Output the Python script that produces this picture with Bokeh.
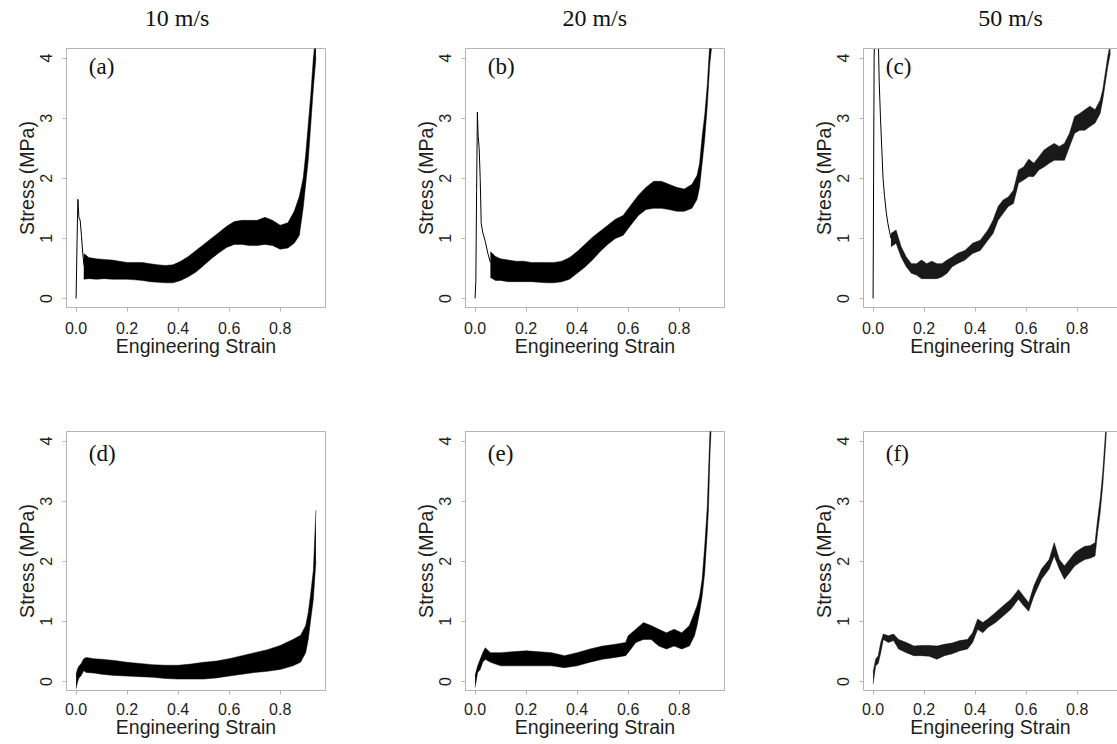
from bokeh.plotting import figure
from bokeh.models import FixedTicker, PrintfTickFormatter, Label, LinearAxis, Range1d
from bokeh.layouts import column, row
from bokeh.embed import file_html
from bokeh.resources import INLINE

# ---------------- data ----------------
x_ticks = [0.0, 0.2, 0.4, 0.6, 0.8]
y_ticks = [0, 1, 2, 3, 4]
col_titles = ["10 m/s", "20 m/s", "50 m/s"]
panel_tags = ["(a)", "(b)", "(c)", "(d)", "(e)", "(f)"]

# (a) 10 m/s, top row
a_spike_x = [0.0, 0.004, 0.007, 0.011, 0.016, 0.021, 0.026, 0.031]
a_spike_y = [0.0, 1.0, 1.65, 1.35, 1.3, 1.05, 0.75, 0.55]
a_x = [0.03, 0.05, 0.08, 0.11, 0.14, 0.17, 0.20, 0.23, 0.26, 0.29, 0.32, 0.35, 0.38, 0.41,
       0.44, 0.47, 0.50, 0.53, 0.56, 0.59, 0.62, 0.65, 0.68, 0.71, 0.74, 0.77, 0.80, 0.83,
       0.855, 0.875, 0.89, 0.90, 0.91, 0.92, 0.93, 0.94]
a_lo = [0.32, 0.33, 0.32, 0.33, 0.32, 0.32, 0.32, 0.31, 0.30, 0.28, 0.27, 0.26, 0.26, 0.30,
        0.36, 0.44, 0.55, 0.66, 0.76, 0.85, 0.90, 0.90, 0.88, 0.88, 0.90, 0.88, 0.82, 0.84,
        0.92, 1.05, 1.50, 1.90, 2.30, 2.90, 3.50, 4.00]
a_hi = [0.75, 0.68, 0.66, 0.65, 0.64, 0.62, 0.60, 0.60, 0.60, 0.58, 0.56, 0.55, 0.56, 0.62,
        0.70, 0.80, 0.90, 1.00, 1.10, 1.20, 1.28, 1.30, 1.30, 1.30, 1.35, 1.30, 1.22, 1.26,
        1.45, 1.70, 2.00, 2.40, 2.90, 3.40, 4.00, 4.40]

# (b) 20 m/s, top row
b_spike_x = [0.0, 0.003, 0.006, 0.009, 0.012, 0.016, 0.020, 0.024, 0.030, 0.040, 0.050, 0.060]
b_spike_y = [0.0, 0.3, 1.8, 3.1, 2.7, 2.5, 2.0, 1.25, 1.1, 0.95, 0.75, 0.6]
b_x = [0.06, 0.08, 0.10, 0.13, 0.16, 0.19, 0.22, 0.25, 0.28, 0.31, 0.34, 0.37, 0.40, 0.43,
       0.46, 0.49, 0.52, 0.55, 0.58, 0.61, 0.64, 0.67, 0.70, 0.73, 0.76, 0.79, 0.82, 0.85,
       0.87, 0.88, 0.89, 0.90, 0.91, 0.92, 0.93]
b_lo = [0.35, 0.30, 0.30, 0.28, 0.28, 0.28, 0.28, 0.27, 0.26, 0.26, 0.28, 0.32, 0.42, 0.52,
        0.64, 0.78, 0.90, 1.00, 1.05, 1.22, 1.38, 1.48, 1.50, 1.50, 1.48, 1.45, 1.45, 1.50,
        1.65, 1.85, 2.25, 2.65, 3.20, 3.90, 4.30]
b_hi = [0.78, 0.70, 0.66, 0.64, 0.62, 0.62, 0.60, 0.60, 0.60, 0.60, 0.62, 0.68, 0.78, 0.90,
        1.02, 1.12, 1.22, 1.32, 1.38, 1.55, 1.72, 1.85, 1.95, 1.95, 1.90, 1.85, 1.82, 1.90,
        2.05, 2.25, 2.70, 3.05, 3.55, 4.25, 4.50]

# (c) 50 m/s, top row
c_spike_x = [0.0, 0.002, 0.004, 0.007, 0.019, 0.024, 0.029, 0.034, 0.039, 0.045, 0.052,
             0.058, 0.064, 0.070]
c_spike_y = [0.0, 2.0, 4.0, 4.6, 4.6, 3.6, 3.0, 2.5, 2.0, 1.7, 1.42, 1.25, 1.12, 1.0]
c_x = [0.07, 0.09, 0.11, 0.13, 0.15, 0.17, 0.19, 0.21, 0.23, 0.25, 0.27, 0.29, 0.31, 0.33,
       0.36, 0.39, 0.42, 0.45, 0.47, 0.49, 0.51, 0.53, 0.55, 0.57, 0.59, 0.61, 0.63, 0.65,
       0.67, 0.69, 0.71, 0.73, 0.75, 0.77, 0.79, 0.81, 0.83, 0.85, 0.87, 0.89, 0.90, 0.91,
       0.92, 0.93]
c_lo = [0.86, 0.92, 0.69, 0.53, 0.42, 0.39, 0.33, 0.33, 0.33, 0.33, 0.36, 0.42, 0.53, 0.58,
        0.64, 0.75, 0.80, 0.97, 1.08, 1.30, 1.42, 1.53, 1.58, 1.92, 1.97, 2.03, 2.03, 2.14,
        2.19, 2.25, 2.30, 2.30, 2.30, 2.53, 2.75, 2.80, 2.80, 2.86, 2.92, 3.08, 3.30, 3.58,
        3.86, 4.08]
c_hi = [1.08, 1.14, 0.86, 0.69, 0.58, 0.58, 0.64, 0.58, 0.62, 0.58, 0.58, 0.64, 0.69, 0.75,
        0.80, 0.92, 0.97, 1.14, 1.30, 1.53, 1.64, 1.69, 1.80, 2.14, 2.19, 2.32, 2.25, 2.36,
        2.47, 2.53, 2.58, 2.53, 2.58, 2.75, 3.03, 3.08, 3.14, 3.20, 3.14, 3.30, 3.47, 3.75,
        4.03, 4.25]

# (d) 10 m/s, bottom row
d_x = [0.0, 0.005, 0.01, 0.02, 0.03, 0.04, 0.07, 0.10, 0.15, 0.20, 0.25, 0.30, 0.35, 0.40,
       0.45, 0.50, 0.55, 0.60, 0.65, 0.70, 0.75, 0.80, 0.85, 0.88, 0.90, 0.91, 0.92, 0.93, 0.94]
d_lo = [-0.12, -0.02, 0.05, 0.10, 0.18, 0.15, 0.14, 0.12, 0.10, 0.09, 0.08, 0.07, 0.05, 0.04,
        0.04, 0.04, 0.06, 0.09, 0.12, 0.15, 0.17, 0.20, 0.26, 0.32, 0.48, 0.70, 1.04, 1.37, 2.00]
d_hi = [0.12, 0.20, 0.25, 0.30, 0.38, 0.40, 0.38, 0.37, 0.35, 0.32, 0.30, 0.28, 0.27, 0.27,
        0.29, 0.32, 0.34, 0.38, 0.43, 0.48, 0.53, 0.60, 0.70, 0.77, 0.93, 1.15, 1.48, 1.85, 2.85]

# (e) 20 m/s, bottom row
e_x = [0.0, 0.01, 0.02, 0.03, 0.04, 0.06, 0.10, 0.20, 0.30, 0.35, 0.40, 0.45, 0.50, 0.55,
       0.59, 0.60, 0.63, 0.66, 0.69, 0.72, 0.75, 0.78, 0.81, 0.84, 0.86, 0.87, 0.88, 0.89,
       0.90, 0.91, 0.915, 0.92, 0.925]
e_lo = [-0.10, 0.15, 0.20, 0.32, 0.37, 0.32, 0.26, 0.26, 0.26, 0.23, 0.26, 0.32, 0.37, 0.40,
        0.43, 0.48, 0.65, 0.70, 0.70, 0.59, 0.54, 0.59, 0.54, 0.59, 0.76, 0.93, 1.15, 1.42,
        1.81, 2.48, 2.90, 3.70, 4.20]
e_hi = [0.10, 0.26, 0.37, 0.48, 0.56, 0.48, 0.48, 0.51, 0.48, 0.43, 0.48, 0.54, 0.59, 0.62,
        0.65, 0.76, 0.87, 0.98, 0.93, 0.87, 0.81, 0.87, 0.81, 0.93, 1.15, 1.26, 1.42, 1.70,
        2.25, 2.90, 3.50, 4.10, 4.40]

# (f) 50 m/s, bottom row
f_x = [0.0, 0.01, 0.02, 0.03, 0.04, 0.06, 0.08, 0.10, 0.13, 0.16, 0.19, 0.22, 0.25, 0.28,
       0.31, 0.34, 0.37, 0.39, 0.41, 0.43, 0.45, 0.48, 0.51, 0.54, 0.57, 0.59, 0.61, 0.63,
       0.66, 0.69, 0.71, 0.73, 0.75, 0.77, 0.79, 0.81, 0.83, 0.85, 0.87, 0.88, 0.89, 0.90,
       0.91, 0.915]
f_lo = [-0.04, 0.26, 0.30, 0.48, 0.70, 0.65, 0.68, 0.54, 0.48, 0.43, 0.43, 0.42, 0.37, 0.43,
        0.46, 0.51, 0.54, 0.65, 0.87, 0.81, 0.90, 0.98, 1.09, 1.20, 1.37, 1.26, 1.17, 1.42,
        1.70, 1.87, 2.09, 1.87, 1.70, 1.81, 1.92, 1.98, 2.03, 2.05, 2.09, 2.48, 2.81, 3.25,
        3.86, 4.20]
f_hi = [0.15, 0.37, 0.43, 0.65, 0.79, 0.76, 0.79, 0.70, 0.65, 0.59, 0.60, 0.60, 0.59, 0.62,
        0.64, 0.68, 0.70, 0.81, 1.04, 0.98, 1.04, 1.15, 1.26, 1.37, 1.53, 1.42, 1.31, 1.59,
        1.87, 2.03, 2.31, 2.03, 1.92, 2.03, 2.14, 2.20, 2.25, 2.26, 2.31, 2.70, 3.03, 3.47,
        4.08, 4.40]

# ---------------- styling / layout ----------------
GREY = "#b4b4b4"
TXT = "#1e1e1e"
X0 = -0.0376
Y_RANGE = (-0.15, 4.16)


def make_panel(width, height, bl, br, bt, bb, x_end, open_right, tick_std, lab_std):
    p = figure(width=width, height=height,
               x_range=Range1d(X0, x_end), y_range=Range1d(*Y_RANGE),
               output_backend="svg", toolbar_location=None,
               min_border_left=bl, min_border_right=br,
               min_border_top=bt, min_border_bottom=bb)
    p.background_fill_color = "white"
    p.border_fill_color = "white"
    p.grid.visible = False

    xa = p.below[0]
    ya = p.left[0]
    for ax in (xa, ya):
        ax.axis_line_color = GREY
        ax.major_tick_line_color = GREY
        ax.minor_tick_line_color = None
        ax.major_tick_in = 0
        ax.major_tick_out = 4
        ax.major_label_text_font = "Liberation Sans"
        ax.major_label_text_font_size = "16px"
        ax.major_label_text_color = TXT
        ax.axis_label_text_font = "Liberation Sans"
        ax.axis_label_text_font_size = "19.5px"
        ax.axis_label_text_font_style = "normal"
        ax.axis_label_text_color = TXT

    xa.ticker = FixedTicker(ticks=x_ticks)
    xa.formatter = PrintfTickFormatter(format="%.1f")
    xa.axis_label = "Engineering Strain"
    xa.major_label_standoff = tick_std
    xa.axis_label_standoff = lab_std

    ya.ticker = FixedTicker(ticks=y_ticks)
    ya.axis_label = "Stress (MPa)"
    ya.major_label_orientation = "vertical"
    ya.major_label_standoff = 10
    ya.axis_label_standoff = 0

    if open_right:
        p.outline_line_color = None
        top = LinearAxis(ticker=FixedTicker(ticks=[]), axis_line_color=GREY,
                         major_tick_line_color=None, minor_tick_line_color=None,
                         major_label_text_font_size="0px", major_label_standoff=0,
                         axis_label=None)
        p.add_layout(top, "above")
    else:
        p.outline_line_color = GREY
        p.outline_line_width = 1
    return p


def make_strip(width, bl, br, x_end, text, x):
    s = figure(width=width, height=40, x_range=Range1d(X0, x_end), y_range=Range1d(0, 1),
               output_backend="svg", toolbar_location=None,
               x_axis_type=None, y_axis_type=None,
               min_border_left=bl, min_border_right=br, min_border_top=0, min_border_bottom=0)
    s.grid.visible = False
    s.outline_line_color = None
    s.background_fill_color = "white"
    s.border_fill_color = "white"
    s.add_layout(Label(x=x, y=0.575, text=text, text_align="center",
                       text_baseline="middle", text_font="Liberation Serif",
                       text_font_size="24px", text_color="#111111"))
    return s


def draw(p, xs, lo, hi, alpha=1.0, spike_x=None, spike_y=None):
    p.varea(x=xs, y1=lo, y2=hi, fill_color="black", fill_alpha=alpha)
    p.line(x=xs, y=lo, line_color="black", line_width=0.8, line_alpha=0.6)
    p.line(x=xs, y=hi, line_color="black", line_width=0.8, line_alpha=0.6)
    if spike_x is not None:
        p.line(x=spike_x, y=spike_y, line_color="black", line_width=1.0)


def tag(p, text, y):
    p.add_layout(Label(x=0.05, y=y, text=text, text_align="left", text_baseline="middle",
                       text_font="Liberation Serif", text_font_size="23px",
                       text_color="#111111"))


# page starts at (0,0); columns: 0..407, 407..806, 806..1117
# title strip (y 0..40)
sa = make_strip(407, 66, 82, 0.9776, col_titles[0], 0.396)
sb = make_strip(399, 58, 82, 0.9776, col_titles[1], 0.469)
sc = make_strip(311, 57, 0, 0.958, col_titles[2], 0.5386)
# top row (y 40..375), frames 48..307
pa = make_panel(407, 335, 66, 82, 8, 68, 0.9776, False, 10, -2)
pb = make_panel(399, 335, 58, 82, 8, 68, 0.9776, False, 10, -2)
pc = make_panel(311, 335, 57, 0, 8, 68, 0.958, True, 10, -2)
# bottom row (y 375..743), frames 431..690
pd = make_panel(407, 368, 66, 82, 56, 53, 0.9776, False, 8, -2)
pe = make_panel(399, 368, 58, 82, 56, 53, 0.9776, False, 8, -2)
pf = make_panel(311, 368, 57, 0, 56, 53, 0.958, True, 8, -2)

draw(pa, a_x, a_lo, a_hi, 1.0, a_spike_x, a_spike_y)
draw(pb, b_x, b_lo, b_hi, 1.0, b_spike_x, b_spike_y)
draw(pc, c_x, c_lo, c_hi, 0.9, c_spike_x, c_spike_y)
draw(pd, d_x, d_lo, d_hi, 1.0)
draw(pe, e_x, e_lo, e_hi, 1.0)
draw(pf, f_x, f_lo, f_hi, 0.9)

for p, t in zip([pa, pb, pc], panel_tags[:3]):
    tag(p, t, 3.865)
for p, t in zip([pd, pe, pf], panel_tags[3:]):
    tag(p, t, 3.80)

layout = column(row(sa, sb, sc), row(pa, pb, pc), row(pd, pe, pf))
open("out.html", "w").write(file_html(layout, INLINE))
